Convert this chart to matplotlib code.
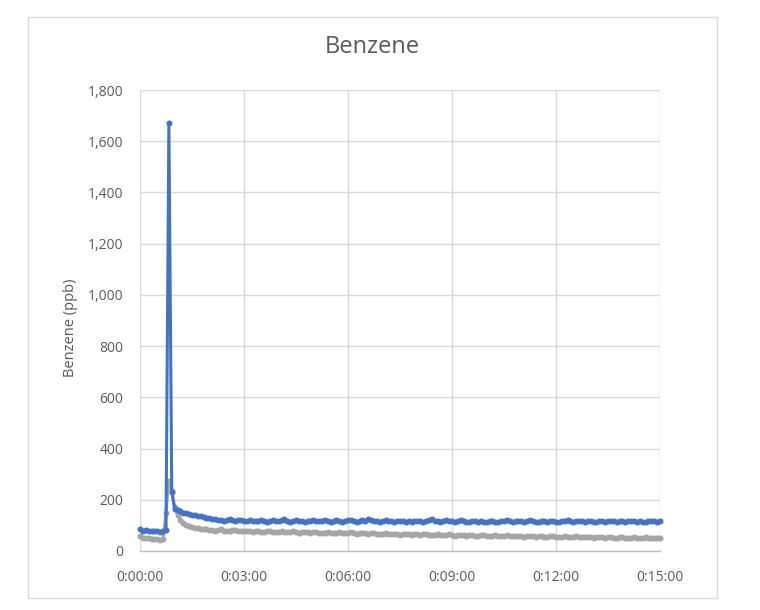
import matplotlib
matplotlib.use("Agg")
import matplotlib.pyplot as plt
from matplotlib.patches import Rectangle
from matplotlib.ticker import FuncFormatter

# sample times in seconds (one reading every 5 s)
seconds = list(range(0, 901, 5))

# upper trace (blue)
benzene_a = [
    85, 80, 82, 78, 80, 77, 79, 76, 78, 82, 1670, 230,
    165, 160, 158, 150, 147, 145, 142, 140, 138, 136, 133, 130,
    128, 126, 124, 122, 120, 118, 120, 123, 121, 118, 120, 122,
    119, 117, 120, 118, 116, 119, 121, 117, 115, 118, 120, 116,
    118, 121, 124, 118, 115, 117, 120, 118, 116, 114, 117, 119,
    121, 117, 116, 119, 122, 118, 115, 118, 120, 117, 115, 118,
    120, 122, 117, 114, 118, 121, 119, 124, 120, 116, 118, 115,
    117, 120, 118, 116, 112, 117, 119, 116, 114, 118, 115, 117,
    119, 116, 114, 117, 121, 124, 119, 116, 113, 117, 120, 118,
    116, 114, 117, 120, 116, 113, 115, 118, 116, 114, 117, 115,
    113, 116, 119, 115, 112, 116, 118, 121, 117, 114, 116, 119,
    116, 113, 117, 121, 118, 112, 115, 119, 117, 114, 116, 118,
    115, 113, 116, 119, 122, 118, 114, 116, 119, 117, 114, 116,
    118, 115, 113, 116, 118, 115, 117, 119, 116, 114, 116, 118,
    115, 117, 119, 116, 114, 117, 115, 113, 116, 118, 116, 115,
    117,
]

# lower trace (grey)
benzene_b = [
    58, 52, 50, 49, 47, 45, 46, 44, 45, 150, 275, 235,
    170, 140, 122, 110, 102, 98, 94, 90, 88, 86, 84, 86,
    83, 81, 80, 82, 84, 80, 78, 80, 83, 81, 79, 80,
    78, 80, 77, 75, 78, 80, 76, 74, 77, 79, 76, 74,
    76, 78, 75, 73, 75, 77, 74, 72, 74, 76, 73, 71,
    73, 75, 72, 70, 72, 74, 71, 70, 72, 73, 70, 69,
    71, 73, 70, 68, 70, 72, 69, 67, 69, 71, 68, 66,
    68, 70, 67, 66, 68, 65, 63, 66, 68, 65, 64, 66,
    65, 63, 65, 67, 64, 62, 64, 66, 63, 61, 63, 65,
    62, 60, 62, 64, 61, 60, 62, 63, 60, 59, 61, 62,
    60, 58, 60, 62, 59, 57, 59, 61, 58, 57, 59, 60,
    58, 56, 58, 60, 57, 55, 57, 59, 56, 55, 57, 58,
    56, 54, 56, 58, 55, 54, 56, 57, 54, 53, 55, 56,
    54, 52, 54, 56, 53, 52, 54, 55, 52, 51, 53, 54,
    52, 50, 52, 54, 51, 50, 52, 53, 50, 49, 51, 52,
    50,
]

x_ticks = list(range(0, 901, 180))
y_ticks = list(range(0, 1801, 200))

text_color = "#595959"
plt.rcParams["font.family"] = ["Open Sans", "DejaVu Sans"]

fig = plt.figure(figsize=(7.6, 6.1), dpi=100)
# outer chart frame
fig.patches.append(Rectangle((28 / 760, 1 - 598 / 610), 689 / 760, 581 / 610,
                             transform=fig.transFigure, fill=False,
                             edgecolor="#d9d9d9", linewidth=1))

ax = fig.add_axes([140 / 760, 1 - 551 / 610, 520 / 760, 461 / 610])
ax.plot(seconds, benzene_b, color="#a5a5a5", lw=2.2, marker="o", ms=3.3,
        zorder=3, clip_on=False)
ax.plot(seconds, benzene_a, color="#4472c4", lw=2.2, marker="o", ms=3.3,
        zorder=4, clip_on=False)

ax.set_xlim(0, 900)
ax.set_ylim(0, 1800)
ax.set_xticks(x_ticks)
ax.set_yticks(y_ticks)
ax.xaxis.set_major_formatter(FuncFormatter(
    lambda v, p: f"{int(v) // 3600}:{int(v) % 3600 // 60:02d}:{int(v) % 60:02d}"))
ax.yaxis.set_major_formatter(FuncFormatter(lambda v, p: f"{int(v):,}"))
ax.grid(True, color="#d9d9d9", lw=1)
ax.set_axisbelow(True)
for side in ["left", "right", "top"]:
    ax.spines[side].set_visible(False)
ax.spines["bottom"].set_color("#bfbfbf")
ax.spines["bottom"].set_linewidth(1)
ax.tick_params(length=0, labelsize=10, labelcolor=text_color)
ax.tick_params(axis="y", pad=12)
ax.tick_params(axis="x", pad=14)

ax.set_ylabel("Benzene (ppb)", fontsize=10.5, color=text_color)
ax.yaxis.set_label_coords(-0.12, 0.485)
fig.text(372 / 760, 1 - 47 / 610, "Benzene", ha="center", va="center",
         fontsize=17, color=text_color)

fig.savefig("out.png", dpi=100)
